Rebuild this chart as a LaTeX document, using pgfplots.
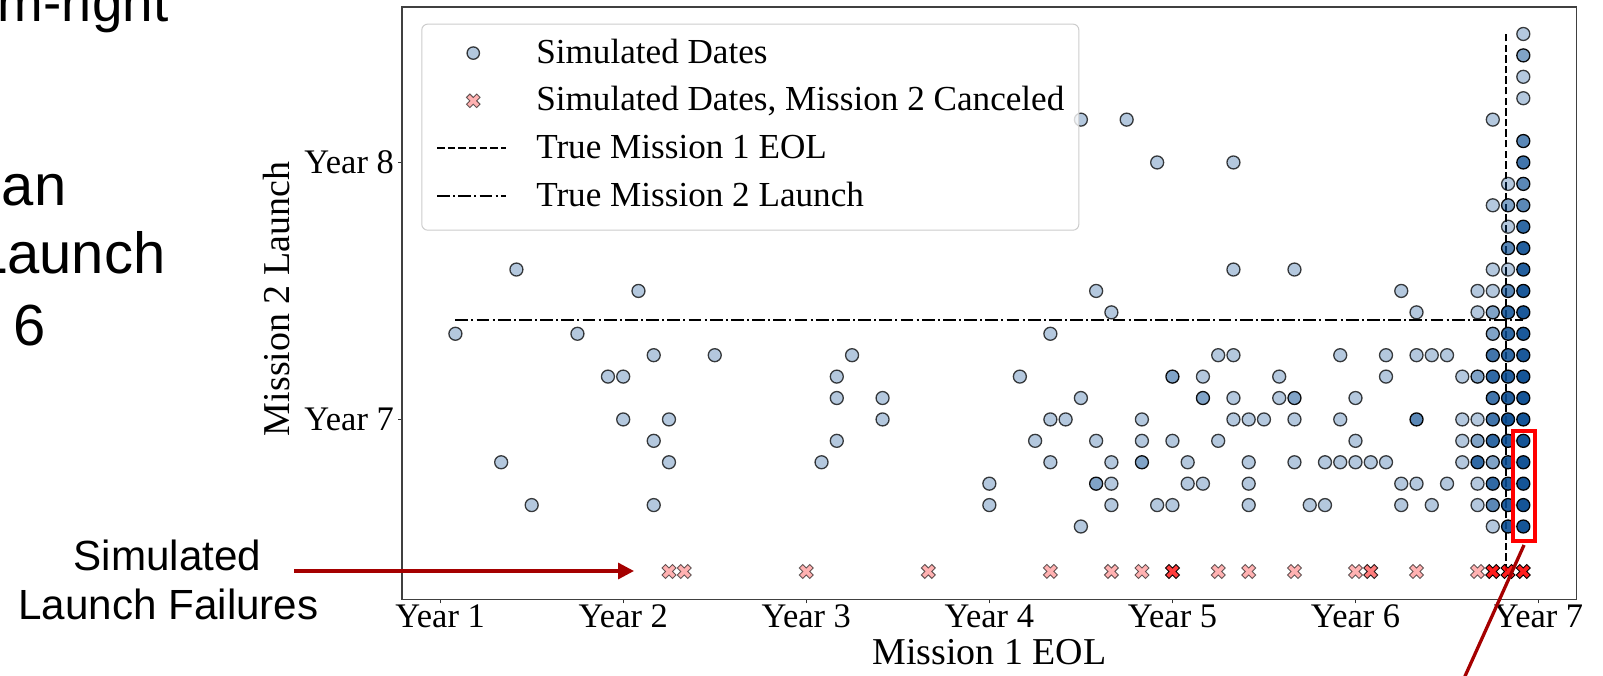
\documentclass[border=0pt]{standalone}
\usepackage{fontspec}
\setmainfont{Liberation Serif}
\newfontfamily\arialfont{Liberation Sans}
\usepackage{pgfplots}
\pgfplotsset{compat=1.18}
\usetikzlibrary{arrows.meta}

\definecolor{ptblue}{RGB}{6,74,145}
\definecolor{ptred}{RGB}{255,0,0}
\definecolor{annred}{RGB}{165,0,0}

\pgfdeclareplotmark{fatx}{%
  \pgfpathmoveto{\pgfqpoint{-0.5\pgfplotmarksize}{-1\pgfplotmarksize}}%
  \pgfpathlineto{\pgfqpoint{0pt}{-0.5\pgfplotmarksize}}%
  \pgfpathlineto{\pgfqpoint{0.5\pgfplotmarksize}{-1\pgfplotmarksize}}%
  \pgfpathlineto{\pgfqpoint{1\pgfplotmarksize}{-0.5\pgfplotmarksize}}%
  \pgfpathlineto{\pgfqpoint{0.5\pgfplotmarksize}{0pt}}%
  \pgfpathlineto{\pgfqpoint{1\pgfplotmarksize}{0.5\pgfplotmarksize}}%
  \pgfpathlineto{\pgfqpoint{0.5\pgfplotmarksize}{1\pgfplotmarksize}}%
  \pgfpathlineto{\pgfqpoint{0pt}{0.5\pgfplotmarksize}}%
  \pgfpathlineto{\pgfqpoint{-0.5\pgfplotmarksize}{1\pgfplotmarksize}}%
  \pgfpathlineto{\pgfqpoint{-1\pgfplotmarksize}{0.5\pgfplotmarksize}}%
  \pgfpathlineto{\pgfqpoint{-0.5\pgfplotmarksize}{0pt}}%
  \pgfpathlineto{\pgfqpoint{-1\pgfplotmarksize}{-0.5\pgfplotmarksize}}%
  \pgfpathclose
  \pgfusepathqfillstroke
}

\pgfplotsset{
  dot/.style 2 args={only marks, mark=*, mark size=0.65mm, forget plot,
    mark options={fill=ptblue, draw=black, line width=0.13mm, fill opacity=#1, draw opacity=#2}},
  xmk/.style 2 args={only marks, mark=fatx, mark size=0.7mm, forget plot,
    mark options={fill=ptred, draw=black, line width=0.09mm, fill opacity=#1, draw opacity=#2}},
}

\begin{document}
\begin{tikzpicture}
\useasboundingbox (0,0) rectangle (160.3mm,67.5mm);
\begin{axis}[
  at={(40.2mm,7.57mm)}, anchor=south west,
  scale only axis, width=117.47mm, height=59.23mm,
  xmin=-2.5, xmax=74.5, ymin=-8.4, ymax=19.26,
  xtick={0,12,24,36,48,60,72},
  xticklabels={Year 1,Year 2,Year 3,Year 4,Year 5,Year 6,Year 7},
  ytick={0,12}, yticklabels={Year 7,Year 8},
  tick pos=left, tick align=outside, major tick length=0.4mm,
  tick style={black!80, line width=0.12mm},
  axis line style={black!75, line width=0.12mm},
  ticklabel style={font=\fontsize{9.8}{11}\selectfont, inner sep=0pt},
  xticklabel style={anchor=base, yshift=-2.45mm},
  yticklabel style={anchor=east, xshift=-0.35mm},
  legend cell align=left,
  legend style={at={(0.0164,0.972)}, anchor=north west,
    draw=black!20, line width=0.1mm, fill=white, fill opacity=0.8, text opacity=1,
    rounded corners=0.6mm, inner xsep=1.45mm, inner ysep=1.5mm,
    row sep=1.47mm, column sep=2.9mm,
    font=\fontsize{10}{12}\selectfont,
    nodes={inner sep=0pt, text height=2.4mm, text depth=0.9mm, anchor=base west}},
]
\addlegendimage{legend image code/.code={\path[draw=none,fill=none] (0mm,0mm) (6.9mm,0mm);
  \draw[fill=ptblue, fill opacity=0.3, draw=black, draw opacity=0.75, line width=0.13mm] (3.6mm,1mm) circle (0.62mm);}}
\addlegendentry{Simulated Dates}
\addlegendimage{legend image code/.code={\path[draw=none,fill=none] (0mm,0mm) (6.9mm,0mm);
  \draw[sharp corners, fill=ptred, fill opacity=0.3, draw=black, draw opacity=0.6, line width=0.09mm, x=0.34mm, y=0.34mm, shift={(3.6mm,1mm)}]
  (-1,-2) -- (0,-1) -- (1,-2) -- (2,-1) -- (1,0) -- (2,1) -- (1,2) -- (0,1) -- (-1,2) -- (-2,1) -- (-1,0) -- (-2,-1) -- cycle;}}
\addlegendentry{Simulated Dates, Mission 2 Canceled}
\addlegendimage{legend image code/.code={\draw[black, line width=0.2mm, dash pattern=on 0.74mm off 0.32mm] (0mm,1mm) -- (6.9mm,1mm);}}
\addlegendentry{True Mission 1 EOL}
\addlegendimage{legend image code/.code={\draw[black, line width=0.2mm, dash pattern=on 1.28mm off 0.32mm on 0.2mm off 0.32mm] (0mm,1mm) -- (6.9mm,1mm);}}
\addlegendentry{True Mission 2 Launch}

% months after Year 1 (k) and months after Year 7 (m); one group per number of coinciding simulations
\addplot[dot={0.30}{0.75}] table {
k m
1 4
4 -2
5 7
6 -4
9 4
11 2
12 2
12 0
13 6
14 3
14 -1
14 -4
15 0
15 -2
18 3
25 -2
26 -1
26 1
26 2
27 3
29 1
29 0
36 -3
36 -4
38 2
39 -1
40 4
40 0
40 -2
41 0
42 14
42 1
42 -5
43 6
43 -1
44 5
44 -2
44 -3
44 -4
45 14
46 0
46 -1
47 12
47 -4
48 -1
48 -4
49 -2
49 -3
50 2
50 -3
51 3
51 -1
52 12
52 7
52 3
52 1
52 0
53 0
53 -2
53 -3
53 -4
54 0
55 2
55 1
56 7
56 0
56 -2
57 -4
58 -2
58 -4
59 3
59 0
59 -2
60 1
60 -1
60 -2
61 -2
62 3
62 2
62 -2
63 6
63 -3
63 -4
64 5
64 3
64 -3
65 3
65 -4
66 3
66 -3
67 2
67 0
67 -1
67 -2
68 6
68 5
68 0
68 -3
68 -4
69 14
69 10
69 7
69 6
69 -5
70 11
70 9
70 7
71 18
71 16
71 15
};
\addplot[dot={0.51}{0.94}] table {
k m
43 -3
46 -2
48 2
50 1
56 1
71 17
70 10
69 5
69 4
68 2
68 -1
69 -2
};
\addplot[dot={0.657}{0.984}] table {
k m
64 0
71 13
71 11
71 10
70 8
70 6
69 -4
};
\addplot[dot={0.76}{1}] table {
k m
71 12
69 3
69 1
69 0
};
\addplot[dot={0.832}{1}] table {
k m
71 9
70 5
70 4
70 3
69 2
69 -1
68 -2
69 -3
};
\addplot[dot={0.882}{1}] table {
k m
71 8
71 7
70 2
70 1
70 -1
70 -2
70 -3
70 -4
70 -5
};
\addplot[dot={0.918}{1}] table {
k m
71 6
71 5
71 4
71 3
};
\addplot[dot={0.942}{1}] table {
k m
71 2
71 1
71 0
70 0
71 -1
71 -2
71 -3
71 -4
71 -5
};
% canceled
\addplot[xmk={0.30}{0.6}] table {
k m
15 -7.1
16 -7.1
24 -7.1
32 -7.1
40 -7.1
44 -7.1
46 -7.1
51 -7.1
53 -7.1
56 -7.1
60 -7.1
64 -7.1
68 -7.1
};
\addplot[xmk={0.51}{0.84}] table {
k m
61 -7.1
};
\addplot[xmk={0.76}{0.97}] table {
k m
48 -7.1
};
\addplot[xmk={0.882}{0.996}] table {
k m
69 -7.1
70 -7.1
71 -7.1
};
% true dates
\addplot[black, line width=0.2mm, dash pattern=on 0.74mm off 0.32mm, forget plot] coordinates {(69.85,-7.1) (69.85,18)};
\addplot[black, line width=0.2mm, dash pattern=on 1.28mm off 0.32mm on 0.2mm off 0.32mm, forget plot] coordinates {(1,4.66) (71,4.66)};
\end{axis}

% axis labels
\node[font=\fontsize{10.8}{13}\selectfont, anchor=base, inner sep=0pt] at (98.94mm,1.1mm) {Mission 1 EOL};
\node[font=\fontsize{10.8}{13}\selectfont, rotate=90, anchor=base, inner sep=0pt] at (28.94mm,37.6mm) {Mission 2 Launch};

% slide annotations
\node[font=\arialfont\fontsize{15.6}{19}\selectfont, anchor=base east, inner sep=0pt] at (16.9mm,65.35mm) {bottom-right};
\node[font=\arialfont\fontsize{16.5}{19}\selectfont, anchor=base east, inner sep=0pt] at (6.7mm,46.9mm) {Mean};
\node[font=\arialfont\fontsize{16.5}{19}\selectfont, anchor=base east, inner sep=0pt] at (16.6mm,40.2mm) {Launch};
\node[font=\arialfont\fontsize{16.5}{19}\selectfont, anchor=base west, inner sep=0pt] at (1.25mm,33.0mm) {6};
\node[font=\arialfont\fontsize{12}{14}\selectfont, anchor=base, inner sep=0pt] at (16.75mm,10.5mm) {Simulated};
\node[font=\arialfont\fontsize{12}{14}\selectfont, anchor=base, inner sep=0pt] at (16.85mm,5.6mm) {Launch Failures};
\draw[annred, line width=0.33mm, -{Triangle[length=1.6mm, width=1.6mm]}] (29.4mm,10.4mm) -- (63.4mm,10.4mm);
\draw[red, line width=0.4mm] (151.3mm,24.4mm) rectangle (153.5mm,13.37mm);
\draw[annred, line width=0.33mm] (152.4mm,13.0mm) -- (146.1mm,-1mm);
\end{tikzpicture}
\end{document}
